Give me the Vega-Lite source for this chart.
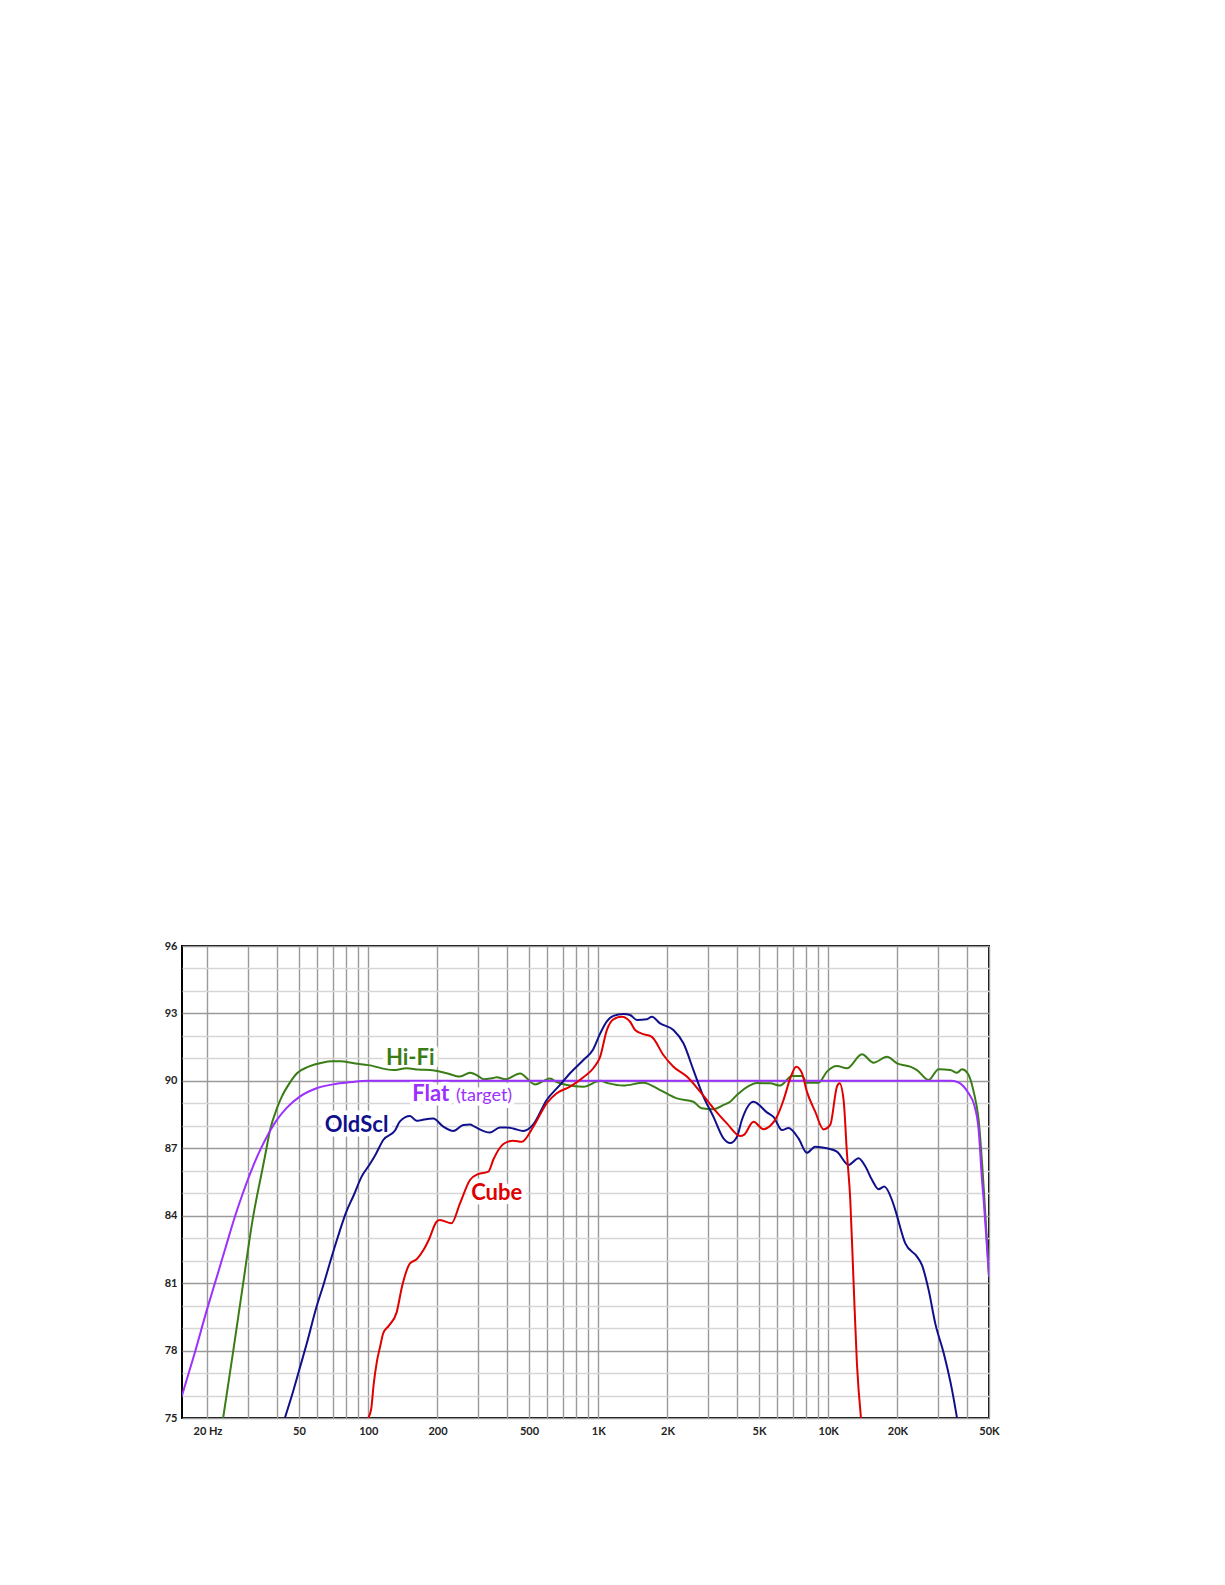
{
  "$schema": "https://vega.github.io/schema/vega-lite/v6.json",
  "autosize": {"type": "none"},
  "padding": {"left": 182, "top": 946, "right": 236, "bottom": 167},
  "width": 807,
  "height": 472,
  "background": "white",
  "config": {
    "view": {"stroke": "#000", "strokeWidth": 2},
    "axis": {"labelFont": "Lato", "labelFontWeight": "bold", "labelFontSize": 11, "labelColor": "#222", "ticks": false, "domain": false, "title": null}
  },
  "datasets": {
    "curves": [
      {"s": "Flat", "f": 15.5, "db": 76.0}, {"s": "Flat", "f": 17.5, "db": 77.8}, {"s": "Flat", "f": 20, "db": 79.9}, {"s": "Flat", "f": 22, "db": 81.3}, {"s": "Flat", "f": 24, "db": 82.6}, {"s": "Flat", "f": 26.4, "db": 84.0}, {"s": "Flat", "f": 28.5, "db": 85.0}, {"s": "Flat", "f": 31, "db": 86.0}, {"s": "Flat", "f": 34, "db": 86.95}, {"s": "Flat", "f": 37.3, "db": 87.75}, {"s": "Flat", "f": 40, "db": 88.25}, {"s": "Flat", "f": 44.2, "db": 88.8}, {"s": "Flat", "f": 50.4, "db": 89.3}, {"s": "Flat", "f": 59.6, "db": 89.67}, {"s": "Flat", "f": 72.9, "db": 89.87}, {"s": "Flat", "f": 85, "db": 89.95}, {"s": "Flat", "f": 100, "db": 90.0}, {"s": "Flat", "f": 1000, "db": 90.0}, {"s": "Flat", "f": 10000, "db": 90.0}, {"s": "Flat", "f": 34000, "db": 90.0}, {"s": "Flat", "f": 36500, "db": 89.95}, {"s": "Flat", "f": 38800, "db": 89.75}, {"s": "Flat", "f": 41000, "db": 89.4}, {"s": "Flat", "f": 42900, "db": 89.0}, {"s": "Flat", "f": 45100, "db": 87.8}, {"s": "Flat", "f": 46600, "db": 85.6}, {"s": "Flat", "f": 47400, "db": 84.7}, {"s": "Flat", "f": 48700, "db": 83.0}, {"s": "Flat", "f": 50000, "db": 81.3},

      {"s": "Hi-Fi", "f": 23.4, "db": 75.0}, {"s": "Hi-Fi", "f": 25.9, "db": 78.0}, {"s": "Hi-Fi", "f": 28.6, "db": 81.0}, {"s": "Hi-Fi", "f": 31.6, "db": 83.96}, {"s": "Hi-Fi", "f": 32.8, "db": 84.85}, {"s": "Hi-Fi", "f": 34.1, "db": 85.7}, {"s": "Hi-Fi", "f": 35.5, "db": 86.6}, {"s": "Hi-Fi", "f": 37.5, "db": 87.85}, {"s": "Hi-Fi", "f": 40, "db": 88.75}, {"s": "Hi-Fi", "f": 42.1, "db": 89.3}, {"s": "Hi-Fi", "f": 45.5, "db": 89.9}, {"s": "Hi-Fi", "f": 49, "db": 90.34}, {"s": "Hi-Fi", "f": 55, "db": 90.63}, {"s": "Hi-Fi", "f": 62.9, "db": 90.81}, {"s": "Hi-Fi", "f": 70, "db": 90.87}, {"s": "Hi-Fi", "f": 75.5, "db": 90.87}, {"s": "Hi-Fi", "f": 87.8, "db": 90.77}, {"s": "Hi-Fi", "f": 100, "db": 90.7}, {"s": "Hi-Fi", "f": 128.5, "db": 90.48}, {"s": "Hi-Fi", "f": 146.9, "db": 90.56}, {"s": "Hi-Fi", "f": 165, "db": 90.5}, {"s": "Hi-Fi", "f": 185.5, "db": 90.48}, {"s": "Hi-Fi", "f": 219.3, "db": 90.34}, {"s": "Hi-Fi", "f": 250.6, "db": 90.19}, {"s": "Hi-Fi", "f": 277, "db": 90.36}, {"s": "Hi-Fi", "f": 290, "db": 90.3}, {"s": "Hi-Fi", "f": 306, "db": 90.16}, {"s": "Hi-Fi", "f": 316.5, "db": 90.07}, {"s": "Hi-Fi", "f": 350, "db": 90.13}, {"s": "Hi-Fi", "f": 362, "db": 90.16}, {"s": "Hi-Fi", "f": 395, "db": 90.07}, {"s": "Hi-Fi", "f": 457, "db": 90.33}, {"s": "Hi-Fi", "f": 531, "db": 89.84}, {"s": "Hi-Fi", "f": 580, "db": 90.0}, {"s": "Hi-Fi", "f": 617, "db": 90.1}, {"s": "Hi-Fi", "f": 660, "db": 89.95}, {"s": "Hi-Fi", "f": 730, "db": 89.82}, {"s": "Hi-Fi", "f": 862, "db": 89.74}, {"s": "Hi-Fi", "f": 1019, "db": 90.0}, {"s": "Hi-Fi", "f": 1100, "db": 89.9}, {"s": "Hi-Fi", "f": 1286, "db": 89.79}, {"s": "Hi-Fi", "f": 1572, "db": 89.92}, {"s": "Hi-Fi", "f": 1858, "db": 89.59}, {"s": "Hi-Fi", "f": 2197, "db": 89.22}, {"s": "Hi-Fi", "f": 2594, "db": 89.07}, {"s": "Hi-Fi", "f": 2812, "db": 88.78}, {"s": "Hi-Fi", "f": 3170, "db": 88.74}, {"s": "Hi-Fi", "f": 3504, "db": 88.93}, {"s": "Hi-Fi", "f": 3746, "db": 89.07}, {"s": "Hi-Fi", "f": 4008, "db": 89.37}, {"s": "Hi-Fi", "f": 4568, "db": 89.8}, {"s": "Hi-Fi", "f": 4895, "db": 89.9}, {"s": "Hi-Fi", "f": 5594, "db": 89.89}, {"s": "Hi-Fi", "f": 6184, "db": 89.79}, {"s": "Hi-Fi", "f": 6950, "db": 90.22}, {"s": "Hi-Fi", "f": 7686, "db": 90.22}, {"s": "Hi-Fi", "f": 8077, "db": 89.92}, {"s": "Hi-Fi", "f": 9074, "db": 89.92}, {"s": "Hi-Fi", "f": 9870, "db": 90.41}, {"s": "Hi-Fi", "f": 10910, "db": 90.66}, {"s": "Hi-Fi", "f": 12060, "db": 90.56}, {"s": "Hi-Fi", "f": 14020, "db": 91.18}, {"s": "Hi-Fi", "f": 15740, "db": 90.81}, {"s": "Hi-Fi", "f": 18010, "db": 91.07}, {"s": "Hi-Fi", "f": 19910, "db": 90.78}, {"s": "Hi-Fi", "f": 22740, "db": 90.63}, {"s": "Hi-Fi", "f": 24310, "db": 90.48}, {"s": "Hi-Fi", "f": 27320, "db": 90.04}, {"s": "Hi-Fi", "f": 30200, "db": 90.52}, {"s": "Hi-Fi", "f": 33960, "db": 90.48}, {"s": "Hi-Fi", "f": 36300, "db": 90.36}, {"s": "Hi-Fi", "f": 38170, "db": 90.52}, {"s": "Hi-Fi", "f": 40370, "db": 90.34}, {"s": "Hi-Fi", "f": 42880, "db": 89.52}, {"s": "Hi-Fi", "f": 45080, "db": 88.26}, {"s": "Hi-Fi", "f": 47390, "db": 85.29}, {"s": "Hi-Fi", "f": 50000, "db": 81.3},

      {"s": "OldScl", "f": 43.4, "db": 75.0}, {"s": "OldScl", "f": 47.2, "db": 76.2}, {"s": "OldScl", "f": 50, "db": 77.1}, {"s": "OldScl", "f": 54, "db": 78.3}, {"s": "OldScl", "f": 59.6, "db": 79.95}, {"s": "OldScl", "f": 64, "db": 80.95}, {"s": "OldScl", "f": 68.1, "db": 81.9}, {"s": "OldScl", "f": 74, "db": 83.1}, {"s": "OldScl", "f": 80.5, "db": 84.2}, {"s": "OldScl", "f": 86.4, "db": 84.9}, {"s": "OldScl", "f": 93.6, "db": 85.74}, {"s": "OldScl", "f": 101.7, "db": 86.3}, {"s": "OldScl", "f": 108, "db": 86.75}, {"s": "OldScl", "f": 116.2, "db": 87.37}, {"s": "OldScl", "f": 131, "db": 87.8}, {"s": "OldScl", "f": 137.4, "db": 88.2}, {"s": "OldScl", "f": 151.9, "db": 88.44}, {"s": "OldScl", "f": 162.4, "db": 88.22}, {"s": "OldScl", "f": 171.3, "db": 88.26}, {"s": "OldScl", "f": 191.8, "db": 88.32}, {"s": "OldScl", "f": 212.1, "db": 87.96}, {"s": "OldScl", "f": 234.4, "db": 87.77}, {"s": "OldScl", "f": 259, "db": 88.04}, {"s": "OldScl", "f": 277, "db": 88.06}, {"s": "OldScl", "f": 290, "db": 87.96}, {"s": "OldScl", "f": 338, "db": 87.7}, {"s": "OldScl", "f": 374, "db": 87.93}, {"s": "OldScl", "f": 400, "db": 87.93}, {"s": "OldScl", "f": 427, "db": 87.88}, {"s": "OldScl", "f": 472, "db": 87.77}, {"s": "OldScl", "f": 522, "db": 88.06}, {"s": "OldScl", "f": 597, "db": 89.15}, {"s": "OldScl", "f": 682, "db": 89.82}, {"s": "OldScl", "f": 754, "db": 90.34}, {"s": "OldScl", "f": 862, "db": 90.93}, {"s": "OldScl", "f": 950, "db": 91.4}, {"s": "OldScl", "f": 1019, "db": 92.1}, {"s": "OldScl", "f": 1090, "db": 92.65}, {"s": "OldScl", "f": 1164, "db": 92.89}, {"s": "OldScl", "f": 1286, "db": 92.98}, {"s": "OldScl", "f": 1376, "db": 92.93}, {"s": "OldScl", "f": 1472, "db": 92.71}, {"s": "OldScl", "f": 1627, "db": 92.74}, {"s": "OldScl", "f": 1710, "db": 92.85}, {"s": "OldScl", "f": 1858, "db": 92.56}, {"s": "OldScl", "f": 2123, "db": 92.26}, {"s": "OldScl", "f": 2347, "db": 91.67}, {"s": "OldScl", "f": 2594, "db": 90.48}, {"s": "OldScl", "f": 2867, "db": 89.3}, {"s": "OldScl", "f": 3170, "db": 88.4}, {"s": "OldScl", "f": 3504, "db": 87.44}, {"s": "OldScl", "f": 3746, "db": 87.23}, {"s": "OldScl", "f": 4008, "db": 87.5}, {"s": "OldScl", "f": 4212, "db": 88.26}, {"s": "OldScl", "f": 4732, "db": 89.07}, {"s": "OldScl", "f": 5412, "db": 88.6}, {"s": "OldScl", "f": 5781, "db": 88.4}, {"s": "OldScl", "f": 6290, "db": 87.81}, {"s": "OldScl", "f": 6721, "db": 87.9}, {"s": "OldScl", "f": 7425, "db": 87.44}, {"s": "OldScl", "f": 8077, "db": 86.8}, {"s": "OldScl", "f": 8777, "db": 87.07}, {"s": "OldScl", "f": 9870, "db": 87.0}, {"s": "OldScl", "f": 10910, "db": 86.85}, {"s": "OldScl", "f": 12260, "db": 86.26}, {"s": "OldScl", "f": 13550, "db": 86.56}, {"s": "OldScl", "f": 14490, "db": 86.2}, {"s": "OldScl", "f": 15490, "db": 85.6}, {"s": "OldScl", "f": 16550, "db": 85.18}, {"s": "OldScl", "f": 17520, "db": 85.3}, {"s": "OldScl", "f": 18930, "db": 84.7}, {"s": "OldScl", "f": 19560, "db": 84.26}, {"s": "OldScl", "f": 21630, "db": 82.77}, {"s": "OldScl", "f": 24310, "db": 82.18}, {"s": "OldScl", "f": 25560, "db": 81.8}, {"s": "OldScl", "f": 27320, "db": 80.7}, {"s": "OldScl", "f": 29210, "db": 79.2}, {"s": "OldScl", "f": 31740, "db": 77.9}, {"s": "OldScl", "f": 34530, "db": 76.25}, {"s": "OldScl", "f": 36300, "db": 75.0},

      {"s": "Cube", "f": 100, "db": 75.0}, {"s": "Cube", "f": 103, "db": 75.4}, {"s": "Cube", "f": 105.6, "db": 76.5}, {"s": "Cube", "f": 109, "db": 77.5}, {"s": "Cube", "f": 112.6, "db": 78.17}, {"s": "Cube", "f": 116.2, "db": 78.77}, {"s": "Cube", "f": 122.7, "db": 79.1}, {"s": "Cube", "f": 132.9, "db": 79.7}, {"s": "Cube", "f": 140.2, "db": 80.84}, {"s": "Cube", "f": 151.9, "db": 81.88}, {"s": "Cube", "f": 162.4, "db": 82.06}, {"s": "Cube", "f": 173.8, "db": 82.47}, {"s": "Cube", "f": 183.2, "db": 82.92}, {"s": "Cube", "f": 198.2, "db": 83.73}, {"s": "Cube", "f": 205, "db": 83.81}, {"s": "Cube", "f": 230, "db": 83.66}, {"s": "Cube", "f": 250.6, "db": 84.55}, {"s": "Cube", "f": 277, "db": 85.59}, {"s": "Cube", "f": 300, "db": 85.85}, {"s": "Cube", "f": 333, "db": 85.96}, {"s": "Cube", "f": 350, "db": 86.5}, {"s": "Cube", "f": 387, "db": 87.19}, {"s": "Cube", "f": 427, "db": 87.34}, {"s": "Cube", "f": 465, "db": 87.29}, {"s": "Cube", "f": 522, "db": 87.96}, {"s": "Cube", "f": 597, "db": 89.0}, {"s": "Cube", "f": 660, "db": 89.45}, {"s": "Cube", "f": 754, "db": 89.74}, {"s": "Cube", "f": 862, "db": 90.16}, {"s": "Cube", "f": 952, "db": 90.56}, {"s": "Cube", "f": 1019, "db": 91.07}, {"s": "Cube", "f": 1090, "db": 92.26}, {"s": "Cube", "f": 1164, "db": 92.74}, {"s": "Cube", "f": 1266, "db": 92.85}, {"s": "Cube", "f": 1376, "db": 92.63}, {"s": "Cube", "f": 1447, "db": 92.26}, {"s": "Cube", "f": 1572, "db": 92.08}, {"s": "Cube", "f": 1710, "db": 91.96}, {"s": "Cube", "f": 1920, "db": 91.15}, {"s": "Cube", "f": 2123, "db": 90.63}, {"s": "Cube", "f": 2428, "db": 90.19}, {"s": "Cube", "f": 2774, "db": 89.52}, {"s": "Cube", "f": 3170, "db": 88.78}, {"s": "Cube", "f": 3625, "db": 88.11}, {"s": "Cube", "f": 4142, "db": 87.55}, {"s": "Cube", "f": 4300, "db": 87.6}, {"s": "Cube", "f": 4732, "db": 88.18}, {"s": "Cube", "f": 5231, "db": 87.85}, {"s": "Cube", "f": 5600, "db": 88.0}, {"s": "Cube", "f": 5959, "db": 88.37}, {"s": "Cube", "f": 6392, "db": 89.15}, {"s": "Cube", "f": 6836, "db": 90.11}, {"s": "Cube", "f": 7256, "db": 90.63}, {"s": "Cube", "f": 7686, "db": 90.34}, {"s": "Cube", "f": 8077, "db": 89.52}, {"s": "Cube", "f": 8777, "db": 88.63}, {"s": "Cube", "f": 9540, "db": 87.84}, {"s": "Cube", "f": 10200, "db": 88.04}, {"s": "Cube", "f": 10910, "db": 89.74}, {"s": "Cube", "f": 11200, "db": 89.89}, {"s": "Cube", "f": 11660, "db": 89.15}, {"s": "Cube", "f": 12060, "db": 86.78}, {"s": "Cube", "f": 12470, "db": 84.7}, {"s": "Cube", "f": 12880, "db": 81.1}, {"s": "Cube", "f": 13330, "db": 77.4}, {"s": "Cube", "f": 13880, "db": 75.0}
    ],
    "labels": [
      {"t": "Hi-Fi", "s": "Hi-Fi", "f": 152.3, "db": 90.71},
      {"t": "Flat", "s": "Flat", "f": 187, "db": 89.1},
      {"t": "OldScl", "s": "OldScl", "f": 89, "db": 87.74},
      {"t": "Cube", "s": "Cube", "f": 362, "db": 84.7}
    ],
    "notes": [
      {"t": "(target)", "s": "Flat", "f": 319, "db": 89.1}
    ]
  },
  "encoding": {
    "x": {
      "field": "f", "type": "quantitative",
      "scale": {"type": "log", "domain": [15.5, 50000], "nice": false},
      "axis": {
        "values": [20, 30, 40, 50, 60, 70, 80, 90, 100, 200, 300, 400, 500, 600, 700, 800, 900, 1000, 2000, 3000, 4000, 5000, 6000, 7000, 8000, 9000, 10000, 20000, 30000, 40000, 50000],
        "labelExpr": "datum.value == 20 ? '20 Hz' : indexof([50,100,200,500], datum.value) >= 0 ? datum.value + '' : indexof([1000,2000,5000,10000,20000,50000], datum.value) >= 0 ? (datum.value/1000) + 'K' : ''",
        "grid": true, "gridColor": "#9a9a9a", "gridWidth": 1.4,
        "labelPadding": 7, "labelOverlap": false, "labelFlush": false
      }
    },
    "y": {
      "field": "db", "type": "quantitative",
      "scale": {"domain": [75, 96], "nice": false, "zero": false},
      "axis": {
        "values": [75, 76, 77, 78, 79, 80, 81, 82, 83, 84, 85, 86, 87, 88, 89, 90, 91, 92, 93, 94, 95, 96],
        "labelExpr": "datum.value % 3 === 0 ? datum.label : ''",
        "grid": true,
        "gridColor": {"condition": {"test": "datum.value % 3 === 0", "value": "#9a9a9a"}, "value": "#d6d6d6"},
        "gridWidth": {"condition": {"test": "datum.value % 3 === 0", "value": 1.6}, "value": 1.3},
        "labelPadding": 5, "labelOverlap": false
      }
    }
  },
  "layer": [
    {
      "data": {"name": "labels"},
      "mark": {"type": "text", "font": "Lato", "fontWeight": "bold", "fontSize": 22, "align": "center", "baseline": "alphabetic", "fill": "white", "stroke": "white", "strokeWidth": 9, "strokeJoin": "round"},
      "encoding": {"text": {"field": "t"}}
    },
    {
      "data": {"name": "notes"},
      "mark": {"type": "text", "font": "Lato", "fontSize": 18, "align": "center", "baseline": "alphabetic", "fill": "white", "stroke": "white", "strokeWidth": 9, "strokeJoin": "round"},
      "encoding": {"text": {"field": "t"}}
    },
    {
      "data": {"name": "labels"},
      "mark": {"type": "text", "font": "Lato", "fontWeight": "bold", "fontSize": 22, "align": "center", "baseline": "alphabetic"},
      "encoding": {
        "text": {"field": "t"},
        "color": {"field": "s", "type": "nominal", "scale": {"domain": ["Hi-Fi", "Flat", "OldScl", "Cube"], "range": ["#3a7d16", "#9b30ff", "#10108c", "#e00000"]}, "legend": null}
      }
    },
    {
      "data": {"name": "notes"},
      "mark": {"type": "text", "font": "Lato", "fontSize": 18, "align": "center", "baseline": "alphabetic"},
      "encoding": {
        "text": {"field": "t"},
        "color": {"field": "s", "type": "nominal", "legend": null}
      }
    },
    {
      "data": {"name": "curves"},
      "transform": [{"filter": "datum.s === 'Hi-Fi'"}],
      "mark": {"type": "line", "strokeWidth": 2, "interpolate": "monotone", "clip": true},
      "encoding": {"color": {"field": "s", "type": "nominal", "legend": null}, "order": {"field": "f", "type": "quantitative"}}
    },
    {
      "data": {"name": "curves"},
      "transform": [{"filter": "datum.s === 'Flat'"}],
      "mark": {"type": "line", "strokeWidth": 2, "interpolate": "monotone", "clip": true},
      "encoding": {"color": {"field": "s", "type": "nominal", "legend": null}, "order": {"field": "f", "type": "quantitative"}}
    },
    {
      "data": {"name": "curves"},
      "transform": [{"filter": "datum.s === 'OldScl'"}],
      "mark": {"type": "line", "strokeWidth": 2, "interpolate": "monotone", "clip": true},
      "encoding": {"color": {"field": "s", "type": "nominal", "legend": null}, "order": {"field": "f", "type": "quantitative"}}
    },
    {
      "data": {"name": "curves"},
      "transform": [{"filter": "datum.s === 'Cube'"}],
      "mark": {"type": "line", "strokeWidth": 2, "interpolate": "monotone", "clip": true},
      "encoding": {"color": {"field": "s", "type": "nominal", "legend": null}, "order": {"field": "f", "type": "quantitative"}}
    }
  ]
}
